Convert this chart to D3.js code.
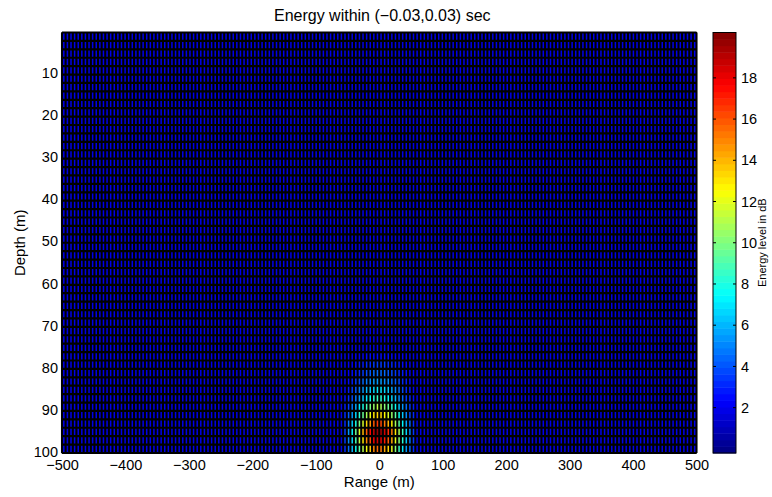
<!DOCTYPE html>
<html>
<head>
<meta charset="utf-8">
<script src="https://cdn.jsdelivr.net/npm/d3@7"></script>
<style>
  html, body { margin: 0; padding: 0; background: #fff; }
  svg text { font-family: "Liberation Sans", Arial, Helvetica, sans-serif; fill: #000; }
</style>
</head>
<body>
<svg id="chart" width="772" height="497"></svg>
<script>
// ---- grid definition ----
const rangeLimits = [-500, 500];      // m
const depthLimits = [0, 100];         // m
const rangeCells = 176;               // number of range bins
const depthStep = 2;                  // m per depth bin

// ---- energy values (dB) ----
const backgroundEnergy = 1.8;
// first range-bin index covered by the focal spot block
const spotFirstColumn = 78;
// top depth (m) of each row of the focal spot block
const spotDepths = [76, 78, 80, 82, 84, 86, 88, 90, 92, 94, 96, 98];
// energy of the focal spot block, one row per depth bin, 20 range bins each
const spotEnergy = [
  [1.9, 2.0, 2.0, 2.1, 2.2, 2.3, 2.4, 2.5, 2.6, 2.6, 2.6, 2.5, 2.5, 2.4, 2.3, 2.2, 2.1, 2.0, 1.9, 1.9],
  [2.0, 2.1, 2.3, 2.5, 2.7, 2.9, 3.1, 3.3, 3.4, 3.5, 3.5, 3.4, 3.2, 3.1, 2.9, 2.7, 2.4, 2.3, 2.1, 2.0],
  [2.1, 2.3, 2.6, 2.9, 3.3, 3.6, 3.9, 4.1, 4.4, 4.5, 4.4, 4.3, 4.1, 3.8, 3.5, 3.2, 2.8, 2.5, 2.3, 2.1],
  [2.2, 2.5, 2.9, 3.4, 3.8, 4.3, 4.7, 5.0, 5.3, 5.5, 5.4, 5.2, 4.9, 4.5, 4.1, 3.7, 3.2, 2.8, 2.5, 2.2],
  [2.3, 2.8, 3.4, 4.0, 4.7, 5.3, 5.9, 6.3, 6.7, 7.0, 6.9, 6.6, 6.2, 5.6, 5.0, 4.4, 3.8, 3.2, 2.7, 2.3],
  [2.5, 3.1, 3.8, 4.6, 5.5, 6.3, 7.0, 7.6, 8.2, 8.5, 8.4, 8.0, 7.4, 6.8, 6.0, 5.2, 4.3, 3.6, 3.0, 2.5],
  [2.7, 3.6, 4.6, 5.7, 6.9, 8.0, 9.0, 9.8, 10.5, 11.0, 10.8, 10.3, 9.5, 8.6, 7.5, 6.4, 5.3, 4.3, 3.5, 2.7],
  [3.0, 4.1, 5.3, 6.7, 8.2, 9.6, 10.9, 12.0, 12.9, 13.5, 13.3, 12.6, 11.6, 10.5, 9.1, 7.7, 6.2, 5.0, 3.9, 3.0],
  [3.3, 4.7, 6.2, 8.0, 9.9, 11.6, 13.3, 14.6, 15.8, 16.5, 16.2, 15.3, 14.1, 12.7, 10.9, 9.2, 7.4, 5.8, 4.5, 3.3],
  [3.6, 5.4, 7.2, 9.4, 11.7, 13.9, 15.8, 17.5, 18.9, 19.8, 19.4, 18.4, 16.9, 15.1, 13.0, 10.8, 8.6, 6.7, 5.0, 3.6],
  [3.5, 5.1, 6.8, 8.8, 11.0, 13.0, 14.8, 16.3, 17.7, 18.5, 18.2, 17.2, 15.8, 14.2, 12.2, 10.2, 8.1, 6.3, 4.8, 3.5],
  [3.2, 4.5, 5.9, 7.6, 9.3, 11.0, 12.5, 13.7, 14.8, 15.5, 15.2, 14.4, 13.3, 12.0, 10.3, 8.7, 7.0, 5.5, 4.3, 3.2]
];
const colorLimits = [-0.2, 20.2];

// ---- ticks and labels ----
const rangeTicks = [-500, -400, -300, -200, -100, 0, 100, 200, 300, 400, 500];
const depthTicks = [10, 20, 30, 40, 50, 60, 70, 80, 90, 100];
const colorTicks = [2, 4, 6, 8, 10, 12, 14, 16, 18];
const titleText = "Energy within (\u22120.03,0.03) sec";
const xLabelText = "Range (m)";
const yLabelText = "Depth (m)";
const cbarLabelText = "Energy level in dB";

// ---- layout ----
const plot = { left: 62, right: 696.5, top: 32.5, bottom: 453 };
const cbar = { left: 713, right: 736 };

const svg = d3.select("#chart");

const x = d3.scaleLinear().domain(rangeLimits).range([plot.left, plot.right]);
const y = d3.scaleLinear().domain(depthLimits).range([plot.top, plot.bottom]);

// 64-level jet colour map
const nColors = 64;
function jet(i) {
  const v = (i + 0.5) / nColors;
  const c = t => Math.max(0, Math.min(1, t));
  const r = c(1.5 - Math.abs(4 * v - 3));
  const g = c(1.5 - Math.abs(4 * v - 2));
  const b = c(1.5 - Math.abs(4 * v - 1));
  return d3.rgb(r * 255, g * 255, b * 255).toString();
}
const colorIndex = d3.scaleQuantize().domain(colorLimits).range(d3.range(nColors));
const colorOf = v => jet(colorIndex(Math.max(colorLimits[0], Math.min(colorLimits[1] - 1e-9, v))));

// ---- build cells ----
const rangeStep = (rangeLimits[1] - rangeLimits[0]) / rangeCells;
const depthRows = (depthLimits[1] - depthLimits[0]) / depthStep;
const cells = [];
for (let r = 0; r < depthRows; r++) {
  const d0 = depthLimits[0] + r * depthStep;
  const spotRow = spotDepths.indexOf(d0);
  for (let c = 0; c < rangeCells; c++) {
    const x0 = rangeLimits[0] + c * rangeStep;
    let e = backgroundEnergy;
    const k = c - spotFirstColumn;
    if (spotRow >= 0 && k >= 0 && k < spotEnergy[spotRow].length) e = spotEnergy[spotRow][k];
    cells.push({ x0, x1: x0 + rangeStep, d0, d1: d0 + depthStep, e });
  }
}

const gPlot = svg.append("g");
gPlot.selectAll("rect.cell")
  .data(cells)
  .join("rect")
  .attr("class", "cell")
  .attr("x", d => x(d.x0))
  .attr("y", d => y(d.d0))
  .attr("width", d => x(d.x1) - x(d.x0))
  .attr("height", d => y(d.d1) - y(d.d0))
  .attr("fill", d => colorOf(d.e))
  .attr("shape-rendering", "crispEdges");

// cell edges
const vEdges = d3.range(rangeCells + 1).map(i => rangeLimits[0] + i * rangeStep);
const hEdges = d3.range(depthRows + 1).map(i => depthLimits[0] + i * depthStep);
gPlot.append("g").selectAll("line")
  .data(vEdges).join("line")
  .attr("x1", d => x(d)).attr("x2", d => x(d))
  .attr("y1", plot.top).attr("y2", plot.bottom)
  .attr("stroke", "#000").attr("stroke-width", 2.1);
gPlot.append("g").selectAll("line")
  .data(hEdges).join("line")
  .attr("y1", d => y(d)).attr("y2", d => y(d))
  .attr("x1", plot.left).attr("x2", plot.right)
  .attr("stroke", "#000").attr("stroke-width", 2.2);

// axes box
svg.append("rect")
  .attr("x", plot.left).attr("y", plot.top)
  .attr("width", plot.right - plot.left).attr("height", plot.bottom - plot.top)
  .attr("fill", "none").attr("stroke", "#000").attr("stroke-width", 1);

// x axis
const xAxis = d3.axisBottom(x).tickValues(rangeTicks).tickSize(0).tickPadding(7)
  .tickFormat(d => d < 0 ? "\u2212" + Math.abs(d) : String(d));
const gx = svg.append("g").attr("transform", `translate(0,${plot.bottom})`).call(xAxis);
gx.select(".domain").remove();
gx.selectAll("text").style("font-size", "14.5px").attr("fill", "#000");

// y axis
const yAxis = d3.axisLeft(y).tickValues(depthTicks).tickSize(0).tickPadding(4);
const gy = svg.append("g").attr("transform", `translate(${plot.left},0)`).call(yAxis);
gy.select(".domain").remove();
gy.selectAll("text").style("font-size", "14.5px").attr("fill", "#000").attr("dy", "0.22em");

// titles
svg.append("text").attr("x", (plot.left + plot.right) / 2 + 3).attr("y", 21)
  .attr("text-anchor", "middle").style("font-size", "16px").text(titleText);
svg.append("text").attr("x", (plot.left + plot.right) / 2).attr("y", 487)
  .attr("text-anchor", "middle").style("font-size", "15px").text(xLabelText);
svg.append("text")
  .attr("transform", `translate(25,${(plot.top + plot.bottom) / 2}) rotate(-90)`)
  .attr("text-anchor", "middle").style("font-size", "15px").text(yLabelText);

// ---- colour bar ----
const cy = d3.scaleLinear().domain(colorLimits).range([plot.bottom, plot.top]);
const bandStep = (colorLimits[1] - colorLimits[0]) / nColors;
const bands = d3.range(nColors).map(i => ({ i, v0: colorLimits[0] + i * bandStep, v1: colorLimits[0] + (i + 1) * bandStep }));
const gc = svg.append("g");
gc.selectAll("rect").data(bands).join("rect")
  .attr("x", cbar.left).attr("width", cbar.right - cbar.left)
  .attr("y", d => cy(d.v1)).attr("height", d => cy(d.v0) - cy(d.v1) + 0.5)
  .attr("fill", d => jet(d.i));
gc.append("rect")
  .attr("x", cbar.left).attr("y", plot.top)
  .attr("width", cbar.right - cbar.left).attr("height", plot.bottom - plot.top)
  .attr("fill", "none").attr("stroke", "#000").attr("stroke-width", 1);
// ticks on both edges of the bar
gc.selectAll("line.tl").data(colorTicks).join("line").attr("class", "tl")
  .attr("x1", cbar.left).attr("x2", cbar.left + 3)
  .attr("y1", d => cy(d)).attr("y2", d => cy(d)).attr("stroke", "#000");
gc.selectAll("line.tr").data(colorTicks).join("line").attr("class", "tr")
  .attr("x1", cbar.right - 3).attr("x2", cbar.right)
  .attr("y1", d => cy(d)).attr("y2", d => cy(d)).attr("stroke", "#000");
gc.selectAll("text.tk").data(colorTicks).join("text").attr("class", "tk")
  .attr("x", cbar.right + 5).attr("y", d => cy(d)).attr("dy", "0.35em")
  .style("font-size", "14.5px").text(d => d);
svg.append("text")
  .attr("transform", `translate(766,${(plot.top + plot.bottom) / 2}) rotate(-90)`)
  .attr("text-anchor", "middle").style("font-size", "11px").text(cbarLabelText);
</script>
</body>
</html>
